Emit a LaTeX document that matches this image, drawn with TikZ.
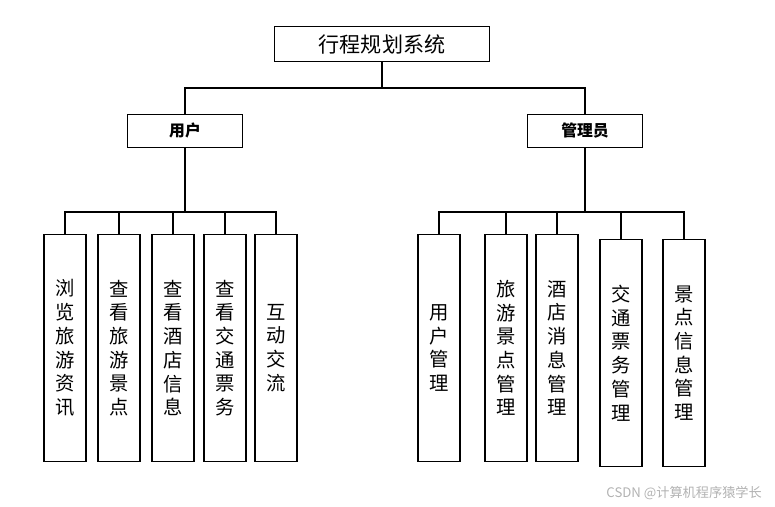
\documentclass[tikz,border=0pt]{standalone}
\usepackage{fontspec}
\setmainfont{Noto Sans CJK SC}
\usetikzlibrary{positioning}
\begin{document}
\begin{tikzpicture}[x=0.02cm,y=-0.02cm]
  \tikzset{
    root/.style = { draw, line width = 0.8pt, minimum width = 4.3cm,
                    minimum height = 0.7cm, font = \fontsize{12}{14}\selectfont },
    mid/.style  = { draw, line width = 0.8pt, minimum width = 2.3cm,
                    minimum height = 0.66cm, font = \bfseries\fontsize{9}{11}\selectfont },
    leaf/.style = { draw, line width = 0.8pt, minimum width = 0.84cm,
                    minimum height = 4.54cm, align = center,
                    font = \fontsize{11}{13.5}\selectfont },
    link/.style = { line width = 0.8pt },
  }
  \useasboundingbox (0,0) rectangle (775,507);

  \node [root] (sys) at (382,44) {行程规划系统};
  \node [mid] (user)  at (185,131) {用户};
  \node [mid] (admin) at (585,131) {管理员};

  % left leaves
  \node [leaf] (u1) at (65,348)  {浏\\览\\旅\\游\\资\\讯};
  \node [leaf] (u2) at (119,348) {查\\看\\旅\\游\\景\\点};
  \node [leaf] (u3) at (173,348) {查\\看\\酒\\店\\信\\息};
  \node [leaf] (u4) at (225,348) {查\\看\\交\\通\\票\\务};
  \node [leaf] (u5) at (276,348) {互\\动\\交\\流};

  % right leaves
  \node [leaf] (a1) at (439,348) {用\\户\\管\\理};
  \node [leaf] (a2) at (506,348) {旅\\游\\景\\点\\管\\理};
  \node [leaf] (a3) at (557,348) {酒\\店\\消\\息\\管\\理};
  \node [leaf] (a4) at (621,353) {交\\通\\票\\务\\管\\理};
  \node [leaf] (a5) at (684,353) {景\\点\\信\\息\\管\\理};

  \coordinate (top) at (382,88);
  \draw [link] (sys.south) -- (top);
  \draw [link] (user.north) |- (top) -| (admin.north);

  \coordinate (ul) at (185,212);
  \draw [link] (user.south) -- (ul);
  \foreach \n in {u1,u2,u3,u4,u5}
    \draw [link] (ul) -| (\n.north);

  \coordinate (al) at (585,212);
  \draw [link] (admin.south) -- (al);
  \foreach \n in {a1,a2,a3,a4,a5}
    \draw [link] (al) -| (\n.north);

  \node [text = gray!60, font = \fontsize{7.5}{9}\selectfont, anchor = east] (mark)
    at (768,493) {CSDN @计算机程序猿学长};
\end{tikzpicture}
\end{document}
